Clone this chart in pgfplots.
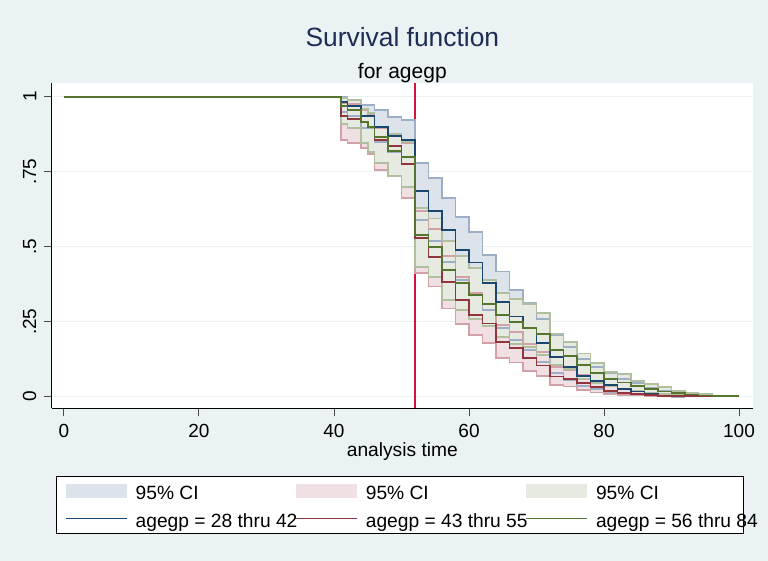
\documentclass[border=0pt]{standalone}
\usepackage{pgfplots}
\pgfplotsset{compat=1.18}
\usepackage{pgfplotstable}
\usepgfplotslibrary{fillbetween}
\usepackage{fontspec}
\setmainfont{Liberation Sans}

\definecolor{bgcol}{RGB}{234,242,243}
\definecolor{gridcol}{RGB}{234,241,243}
\definecolor{navy}{RGB}{26,71,111}
\definecolor{maroon}{RGB}{144,53,59}
\definecolor{fgreen}{RGB}{85,117,47}
\definecolor{bfill}{RGB}{221,227,235}
\definecolor{rfill}{RGB}{240,224,227}
\definecolor{gfill}{RGB}{231,234,225}
\definecolor{bedge}{RGB}{156,175,198}
\definecolor{redge}{RGB}{210,160,167}
\definecolor{gedge}{RGB}{176,192,158}
\definecolor{vcol}{RGB}{210,20,60}
\definecolor{titlecol}{RGB}{30,45,85}

\newcommand{\leg}[1]{\makebox[80pt][l]{\rule[-3.55pt]{0pt}{14pt}#1}}
\newcommand{\legc}[1]{\makebox[69pt][l]{\rule[-3.55pt]{0pt}{14pt}#1}}

% agegp = 28 thru 42
\pgfplotstableread{
t S U L
0 1 1 1
41 0.983 0.998 0.95
42 0.97 0.99 0.935
44 0.935 0.972 0.895
45 0.935 0.972 0.895
46 0.90 0.955 0.85
48 0.87 0.933 0.815
50 0.855 0.922 0.80
52 0.685 0.78 0.59
54 0.62 0.728 0.52
56 0.556 0.661 0.45
58 0.49 0.60 0.39
60 0.447 0.55 0.345
62 0.38 0.472 0.29
64 0.315 0.417 0.23
66 0.267 0.356 0.19
68 0.228 0.311 0.155
70 0.178 0.26 0.115
72 0.132 0.205 0.08
74 0.10 0.165 0.055
76 0.068 0.125 0.035
78 0.052 0.10 0.025
80 0.04 0.08 0.016
82 0.025 0.06 0.009
84 0.017 0.045 0.005
86 0.009 0.03 0.002
88 0.004 0.02 0.0005
90 0.002 0.012 0.0002
92 0.002 0.012 0.0002
}\blue

% agegp = 43 thru 55
\pgfplotstableread{
t S U L
0 1 1 1
41 0.935 0.98 0.856
42 0.925 0.975 0.845
44 0.915 0.955 0.83
45 0.90 0.94 0.81
46 0.855 0.895 0.755
48 0.835 0.87 0.735
50 0.775 0.845 0.662
52 0.53 0.62 0.411
54 0.465 0.56 0.367
56 0.383 0.47 0.294
58 0.322 0.40 0.242
60 0.272 0.345 0.205
62 0.244 0.31 0.178
64 0.183 0.24 0.13
66 0.162 0.215 0.114
68 0.129 0.175 0.086
70 0.104 0.15 0.07
72 0.067 0.10 0.04
74 0.06 0.09 0.034
76 0.046 0.072 0.022
78 0.032 0.054 0.014
80 0.02 0.037 0.009
82 0.013 0.026 0.006
84 0.009 0.019 0.004
86 0.006 0.013 0.002
88 0.003 0.008 0.001
90 0.002 0.006 0.0005
96 0.002 0.006 0.0005
}\red

% agegp = 56 thru 84
\pgfplotstableread{
t S U L
0 1 1 1
41 0.97 0.995 0.91
42 0.955 0.99 0.895
44 0.915 0.96 0.845
45 0.90 0.945 0.815
46 0.865 0.90 0.78
48 0.82 0.875 0.735
50 0.80 0.85 0.70
52 0.54 0.628 0.431
54 0.50 0.594 0.40
56 0.422 0.52 0.322
58 0.378 0.47 0.29
60 0.339 0.43 0.258
62 0.31 0.39 0.235
64 0.272 0.345 0.20
66 0.25 0.325 0.175
68 0.228 0.31 0.165
70 0.208 0.278 0.14
72 0.156 0.21 0.106
74 0.135 0.183 0.092
76 0.105 0.144 0.06
78 0.078 0.111 0.045
80 0.058 0.083 0.035
82 0.047 0.076 0.026
84 0.036 0.053 0.019
86 0.026 0.041 0.013
88 0.017 0.031 0.009
90 0.011 0.02 0.005
92 0.007 0.013 0.003
94 0.004 0.009 0.0015
96 0.002 0.004 0.0008
100 0.002 0.004 0.0008
}\green

\begin{document}
\pagecolor{bgcol}%
\begin{tikzpicture}
\path (0,0) rectangle (384pt,280.5pt);
\begin{axis}[
  name=ax,
  set layers,
  at={(25.85pt,76.35pt)}, anchor=south west,
  scale only axis, width=350.65pt, height=162.65pt,
  xmin=-1.82, xmax=102.07, ymin=-0.0387, ymax=1.0457,
  axis x line*=bottom, axis y line*=left,
  axis line style={line width=0.5pt, black},
  axis background/.style={fill=white},
  tick align=outside, major tick length=4pt,
  tick style={line width=0.5pt, black!70},
  xtick={0,20,40,60,80,100},
  ytick={0,0.25,0.5,0.75,1},
  yticklabels={0,.25,.5,.75,1},
  minor tick num=0,
  /pgf/number format/assume math mode=true,
  ymajorgrids, grid style={gridcol, line width=0.7pt},
  tick label style={font=\fontsize{9.5}{11}\selectfont},
  xticklabel style={anchor=north, inner sep=0pt, yshift=-3.6pt},
  yticklabel style={xshift=-3.5pt, rotate=90, anchor=south, inner sep=0pt},
  xlabel={analysis time},
  xlabel style={at={(axis description cs:0.5,0)}, anchor=base, yshift=-24.1pt, font=\fontsize{9.6}{11}\selectfont, inner sep=0pt},
  legend columns=3,
  legend cell align=left,
  legend style={at={(axis description cs:0.0061,-0.2081)}, anchor=north west,
    draw=black, line width=0.5pt, fill=white,
    inner xsep=4.5pt, inner ysep=1.25pt, row sep=2pt, column sep=0pt,
    font=\fontsize{9.6}{11}\selectfont,
    nodes={inner sep=0pt},
    /tikz/every odd column/.append style={column sep=4pt}},
]
\addplot[forget plot, draw=vcol, color=vcol, line width=0.7pt] coordinates {(52,-0.0387) (52,1.0457)};

% CI bands
\addplot[forget plot, const plot, draw=bedge, line width=0.9pt, name path=bu] table[x=t,y=U]{\blue};
\addplot[forget plot, const plot, draw=bedge, line width=0.9pt, name path=bl] table[x=t,y=L]{\blue};
\addplot[fill=bfill, draw=none, legend image code/.code={\fill[bfill] (0pt,-3.6pt) rectangle (30.5pt,3.6pt);}] fill between[of=bu and bl];
\addlegendentry{\leg{95\% CI}}

\addplot[forget plot, const plot, draw=redge, line width=0.9pt, name path=ru] table[x=t,y=U]{\red};
\addplot[forget plot, const plot, draw=redge, line width=0.9pt, name path=rl] table[x=t,y=L]{\red};
\addplot[fill=rfill, draw=none, legend image code/.code={\fill[rfill] (0pt,-3.6pt) rectangle (30.5pt,3.6pt);}] fill between[of=ru and rl];
\addlegendentry{\leg{95\% CI}}

\addplot[forget plot, const plot, draw=gedge, line width=0.9pt, name path=gu] table[x=t,y=U]{\green};
\addplot[forget plot, const plot, draw=gedge, line width=0.9pt, name path=gl] table[x=t,y=L]{\green};
\addplot[fill=gfill, draw=none, legend image code/.code={\fill[gfill] (0pt,-3.6pt) rectangle (30.5pt,3.6pt);}] fill between[of=gu and gl];
\addlegendentry{\legc{95\% CI}}

% survivor functions
\addplot[const plot, navy, line width=0.9pt, legend image code/.code={\draw[navy,line width=0.6pt] (0pt,0pt)--(30.5pt,0pt);}] table[x=t,y=S]{\blue};
\addlegendentry{\leg{agegp = 28 thru 42}}
\addplot[const plot, maroon, line width=0.9pt, legend image code/.code={\draw[maroon,line width=0.6pt] (0pt,0pt)--(30.5pt,0pt);}] table[x=t,y=S]{\red};
\addlegendentry{\leg{agegp = 43 thru 55}}
\addplot[const plot, fgreen, line width=0.9pt, legend image code/.code={\draw[fgreen,line width=0.6pt] (0pt,0pt)--(30.5pt,0pt);}] table[x=t,y=S]{\green};
\addlegendentry{\legc{agegp = 56 thru 84}}
\end{axis}
\node[anchor=base, text=titlecol, font=\fontsize{13.2}{16}\selectfont, inner sep=0pt] at ([yshift=18.15pt]ax.north) {Survival function};
\node[anchor=base, text=black, font=\fontsize{10.5}{13}\selectfont, inner sep=0pt] at ([yshift=2.25pt]ax.north) {for agegp};
\pgfresetboundingbox
\path[use as bounding box] (0,0) rectangle (384pt,280.5pt);
\end{tikzpicture}%
\end{document}
